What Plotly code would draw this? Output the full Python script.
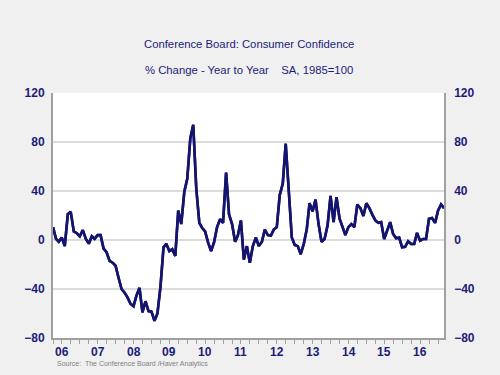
import plotly.graph_objects as go
import pandas as pd

start_month = "2006-01-01"
pct_change = [
    10.5, 1, -1.4, 2, -5, 21, 23, 7, 5.5, 3, 8, 1,
    -3, 3, 1, 4, 4, -7, -10, -17, -18.5, -21, -31, -40,
    -43, -47, -52, -54, -45.5, -39, -59, -50, -58, -58.5, -66, -60,
    -38, -6, -3, -9, -7.5, -13, 24, 13, 39.5, 50, 83, 94,
    42, 14, 10, 7, -2, -9, -2, 10.5, 17, 14, 55, 21,
    13, -1.4, 3.6, 16, -16, -5, -18.5, -5, 2, -5, -1.4, 8.5,
    4, 3.6, 8.5, 10.5, 36.7, 46, 78.6, 38, 2, -4, -5, -11.6,
    -3.3, 9, 30, 23.4, 33, 13, -1.4, 0.8, 12, 36, 14.6, 35,
    17.4, 10.5, 4, 10.5, 13, 10.5, 29, 26, 19.6, 30, 26, 20.7,
    16, 14, 14.6, 0.8, 7.7, 14.6, 5, 1.4, 2, -6, -5.5, -1,
    -3.3, -3.3, 5.8, -0.5, 0.8, 0.8, 17.4, 18, 14, 24, 29, 26,
]
year_labels = ["06", "07", "08", "09", "10", "11", "12", "13", "14", "15", "16"]
y_ticks = [-80, -40, 0, 40, 80, 120]

dates = pd.date_range(start_month, periods=len(pct_change), freq="MS")
navy = "#14146e"
txt = "#1c1c78"

fig = go.Figure()
fig.add_trace(go.Scatter(x=dates, y=pct_change, mode="lines",
                         line=dict(color=navy, width=2.6), yaxis="y", showlegend=False,
                         hoverinfo="skip"))
fig.add_trace(go.Scatter(x=dates, y=pct_change, mode="lines",
                         line=dict(color=navy, width=2.6), yaxis="y2", showlegend=False,
                         hoverinfo="skip"))

font_lbl = dict(family="Liberation Sans, Arial", size=12, color=txt, weight="bold")
font_title = dict(family="Liberation Sans, Arial", size=11.3, color=txt)

fig.update_layout(
    width=500, height=375,
    margin=dict(l=53, r=56, t=93, b=37),
    paper_bgcolor="#f0f0f0", plot_bgcolor="#ffffff",
    xaxis=dict(
        range=[dates[0], dates[-1]], showgrid=False, showticklabels=False,
        showline=True, linecolor="#a0a0a0", linewidth=2, mirror=False,
        ticks="outside", tickcolor="#a0a0a0", ticklen=4, tickwidth=1,
        tickvals=pd.date_range(start_month, periods=44, freq="3MS"),
        zeroline=False,
    ),
    yaxis=dict(
        range=[-80, 120], tickvals=y_ticks, showgrid=True, gridcolor="#dcdcdc", gridwidth=1.5,
        zeroline=False, showline=True, linecolor="#a0a0a0", linewidth=2,
        tickfont=font_lbl, ticks="", ticklabelstandoff=4,
    ),
    yaxis2=dict(
        range=[-80, 120], tickvals=y_ticks, overlaying="y", side="right",
        showgrid=False, zeroline=False, showline=True, linecolor="#a0a0a0", linewidth=1.5,
        tickfont=font_lbl, ticks="", ticklabelstandoff=6,
    ),
)

annotations = [
    dict(text="Conference Board: Consumer Confidence", x=0.501, y=1.2, xref="paper", yref="paper",
         showarrow=False, xanchor="center", yanchor="middle", font=font_title),
    dict(text="% Change - Year to Year&nbsp;&nbsp;&nbsp;&nbsp;SA, 1985=100", x=0.501, y=1.094,
         xref="paper", yref="paper", showarrow=False, xanchor="center", yanchor="middle",
         font=font_title),
    dict(text="Source:  The Conference Board /Haver Analytics", x=0.008, y=-0.106,
         xref="paper", yref="paper", showarrow=False, xanchor="left", yanchor="middle",
         borderpad=0,
         font=dict(family="Liberation Sans, Arial", size=7, color="#808080")),
]
for i, lbl in enumerate(year_labels):
    annotations.append(dict(text=lbl, x=pd.Timestamp(f"{2006 + i}-01-01"), y=-0.057,
                            xref="x", yref="paper", showarrow=False, xanchor="left",
                            yanchor="middle", xshift=1, borderpad=0, font=font_lbl))
fig.update_layout(annotations=annotations)

fig.write_html("out.html", config={"displayModeBar": False},
               post_script="document.body.style.margin='0';")
